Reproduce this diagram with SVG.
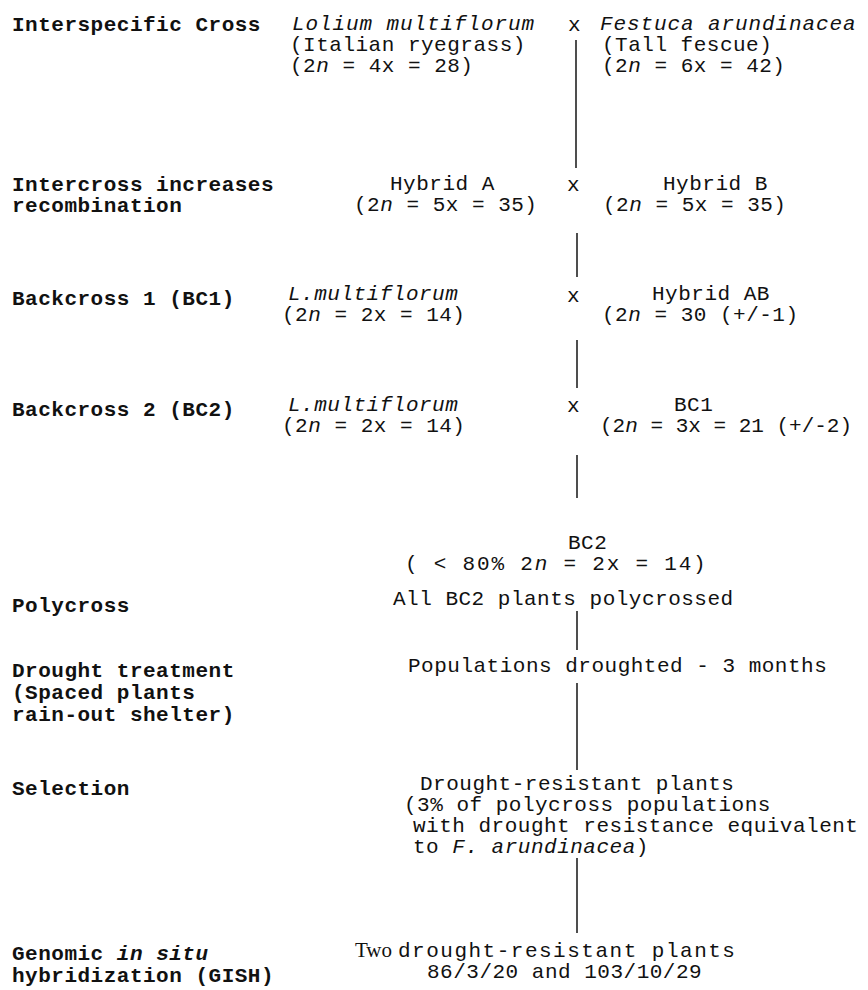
<svg xmlns="http://www.w3.org/2000/svg" width="868" height="990" viewBox="0 0 868 990">
<style>
text{font-family:"Liberation Mono","Courier New",monospace;fill:#111;font-size:21px;letter-spacing:0.5px;}
.lab{font-weight:bold;}
.i{font-style:italic;}
.sf{font-family:"Liberation Serif","Times New Roman",serif;letter-spacing:0;}
.conn line{stroke:#222;stroke-width:1.6;}
</style>
<rect width="868" height="990" fill="#fff"/>
<g id="labels">
<text class="lab" x="12" y="31">Interspecific Cross</text>
<text class="lab" x="12" y="191">Intercross increases</text>
<text class="lab" x="12" y="212">recombination</text>
<text class="lab" x="12" y="305">Backcross 1 (BC1)</text>
<text class="lab" x="12" y="416">Backcross 2 (BC2)</text>
<text class="lab" x="12" y="612">Polycross</text>
<text class="lab" x="12" y="677">Drought treatment</text>
<text class="lab" x="12" y="699">(Spaced plants</text>
<text class="lab" x="12" y="721">rain-out shelter)</text>
<text class="lab" x="12" y="795">Selection</text>
<text class="lab" x="12" y="960">Genomic <tspan class="i">in situ</tspan></text>
<text class="lab" x="12" y="982">hybridization (GISH)</text>
</g>
<g id="lolium">
<text class="i" x="292" y="30" style="letter-spacing:0.9px">Lolium multiflorum</text>
<text x="290" y="51">(Italian ryegrass)</text>
<text x="290" y="72">(2<tspan class="i">n</tspan> = 4x = 28)</text>
</g>
<g id="festuca">
<text class="i" x="600" y="30" style="letter-spacing:0.9px">Festuca arundinacea</text>
<text x="602" y="51">(Tall fescue)</text>
<text x="602" y="72">(2<tspan class="i">n</tspan> = 6x = 42)</text>
</g>
<g id="hybridA">
<text x="390" y="190">Hybrid A</text>
<text x="354" y="211">(2<tspan class="i">n</tspan> = 5x = 35)</text>
</g>
<g id="hybridB">
<text x="663" y="190">Hybrid B</text>
<text x="603" y="211">(2<tspan class="i">n</tspan> = 5x = 35)</text>
</g>
<g id="lm1">
<text class="i" x="288" y="300">L.multiflorum</text>
<text x="282" y="321">(2<tspan class="i">n</tspan> = 2x = 14)</text>
</g>
<g id="hybridAB">
<text x="652" y="300">Hybrid AB</text>
<text x="602" y="321">(2<tspan class="i">n</tspan> = 30 (+/-1)</text>
</g>
<g id="lm2">
<text class="i" x="288" y="411">L.multiflorum</text>
<text x="282" y="432">(2<tspan class="i">n</tspan> = 2x = 14)</text>
</g>
<g id="bc1">
<text x="674" y="411">BC1</text>
<text x="600" y="432" style="letter-spacing:0">(2<tspan class="i">n</tspan> = 3x = 21 (+/-2)</text>
</g>
<g id="bc2">
<text x="568" y="549">BC2</text>
<text x="405" y="570" style="letter-spacing:1.8px">( &lt; 80% 2<tspan class="i">n</tspan> = 2x = 14)</text>
</g>
<g id="polycross">
<text x="393" y="605">All BC2 plants polycrossed</text>
</g>
<g id="drought">
<text x="408" y="672">Populations droughted - 3 months</text>
</g>
<g id="selection">
<text x="420" y="790">Drought-resistant plants</text>
<text x="404" y="811">(3% of polycross populations</text>
<text x="413" y="832">with drought resistance equivalent</text>
<text x="413" y="853">to <tspan class="i">F. arundinacea</tspan>)</text>
</g>
<g id="gish">
<text x="355" y="957"><tspan class="sf">Two</tspan><tspan x="398" style="letter-spacing:1.5px">drought-resistant plants</tspan></text>
<text x="427" y="978">86/3/20 and 103/10/29</text>
</g>
<g id="crosses">
<text x="568" y="31">x</text>
<text x="567" y="191">x</text>
<text x="567" y="302">x</text>
<text x="567" y="412">x</text>
</g>
<g class="conn" id="connectors">
<line x1="576" y1="40" x2="576" y2="168"/>
<line x1="577" y1="233" x2="577" y2="277"/>
<line x1="577" y1="340" x2="577" y2="388"/>
<line x1="577" y1="455" x2="577" y2="498"/>
<line x1="577" y1="611" x2="577" y2="650"/>
<line x1="577" y1="683" x2="577" y2="770"/>
<line x1="577" y1="858" x2="577" y2="933"/>
</g>
</svg>
